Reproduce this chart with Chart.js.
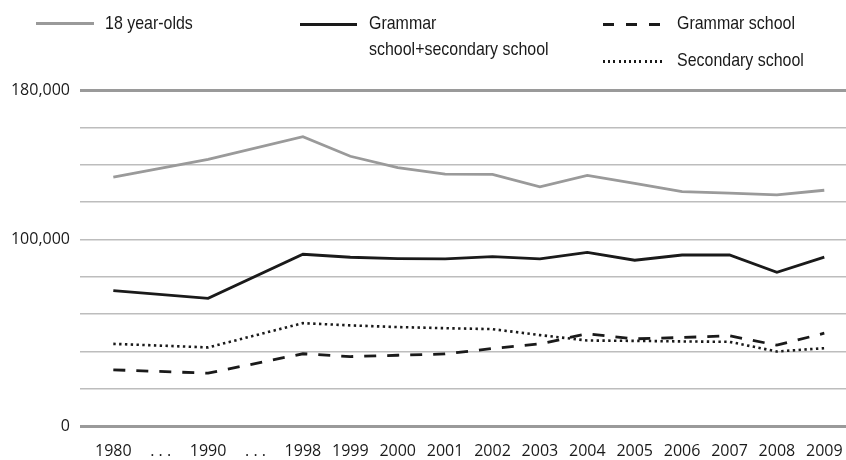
<!DOCTYPE html>
<html>
<head>
<meta charset="utf-8">
<script src="https://cdn.jsdelivr.net/npm/chart.js@4"></script>
<style>
  body { margin: 0; background: #fff; }
  #wrap { position: relative; width: 846px; height: 460px; }
  canvas { position: absolute; left: 0; top: 0; }
  .leg { position: absolute; font-family: "Liberation Sans", Arial, sans-serif; font-size: 19px; line-height: 26px; color: #1a1a1a; white-space: nowrap; transform: scaleX(0.84); transform-origin: left top; }
  .sw { position: absolute; }
</style>
</head>
<body>
<div id="wrap">
  <canvas id="grafico" width="846" height="460"></canvas>

  <div class="sw" style="left:36px; top:22px; width:58px; height:3px; background:#9a9a9a;"></div>
  <div class="leg" style="left:105px; top:10px;">18 year-olds</div>

  <div class="sw" style="left:300px; top:22.5px; width:57px; height:3px; background:#1a1a1a;"></div>
  <div class="leg" style="left:369px; top:10px;">Grammar<br>school+secondary school</div>

  <div class="sw" style="left:603px; top:22.5px; width:58px; height:3px; background:repeating-linear-gradient(to right, #1a1a1a 0 11px, transparent 11px 23px);"></div>
  <div class="leg" style="left:677px; top:10px;">Grammar school</div>

  <div class="sw" style="left:603px; top:60px; width:60px; height:2.5px; background:repeating-linear-gradient(to right, #1a1a1a 0 2px, transparent 2px 5.2px);"></div>
  <div class="leg" style="left:677px; top:46.5px;">Secondary school</div>
</div>

<script>
// ========== Dados ==========

const anos = ['1980', '. . .', '1990', '. . .', '1998', '1999', '2000', '2001', '2002', '2003', '2004', '2005', '2006', '2007', '2008', '2009'];

const jovens18 = [133300, null, 142800, null, 155000, 144500, 138400, 134900, 134800, 128100, 134200, 130000, 125600, 124800, 123800, 126300];
const gramSec = [72500, null, 68400, null, 92000, 90400, 89700, 89500, 90700, 89500, 93000, 88800, 91600, 91600, 82300, 90500];
const gramatica = [30100, null, 28300, null, 38700, 37200, 37900, 38600, 41500, 44000, 49400, 46700, 47400, 48300, 43300, 49700];
const secundaria = [44000, null, 42100, null, 55100, 53900, 53000, 52400, 51900, 48700, 45800, 45600, 45300, 45100, 39900, 41700];

const yTicksVisiveis = [0, 100000, 180000];

// pontos x/y para o eixo linear
function pontos(valores) {
  return valores.map((v, i) => ({ x: i, y: v }));
}

const ctx = document.getElementById('grafico');

new Chart(ctx, {
  type: 'line',
  data: {
    datasets: [
      {
        label: '18 year-olds',
        data: pontos(jovens18),
        borderColor: '#9a9a9a',
        borderWidth: 2.8,
      },
      {
        label: 'Grammar school+secondary school',
        data: pontos(gramSec),
        borderColor: '#1a1a1a',
        borderWidth: 2.8,
      },
      {
        label: 'Grammar school',
        data: pontos(gramatica),
        borderColor: '#1a1a1a',
        borderWidth: 2.8,
        borderDash: [12, 11],
      },
      {
        label: 'Secondary school',
        data: pontos(secundaria),
        borderColor: '#1a1a1a',
        borderWidth: 2.6,
        borderDash: [2.4, 3.4],
      },
    ],
  },
  options: {
    responsive: false,
    animation: false,
    spanGaps: true,
    elements: {
      point: { radius: 0 },
      line: { tension: 0, fill: false },
    },
    layout: { padding: { top: 90, right: 0, left: 0, bottom: 0 } },
    plugins: {
      legend: { display: false },
      tooltip: { enabled: false },
    },
    scales: {
      x: {
        type: 'linear',
        min: -0.703,
        max: 15.458,
        border: { display: false },
        grid: { display: false, drawTicks: true, tickLength: 16 },
        afterBuildTicks: axis => {
          axis.ticks = anos.map((_, i) => ({ value: i }));
        },
        afterFit: axis => { axis.height = 34; },
        ticks: {
          autoSkip: false,
          maxRotation: 0,
          padding: 0,
          color: '#1a1a1a',
          font: { family: 'Open Sans', size: 16 },
          callback: v => anos[v],
        },
      },
      y: {
        min: 0,
        max: 180000,
        border: { display: false },
        afterFit: axis => { axis.width = 80; },
        grid: {
          drawTicks: false,
          color: c => (c.tick.value === 0 || c.tick.value === 180000) ? '#9a9a9a' : '#bdbdbd',
          lineWidth: c => (c.tick.value === 0 || c.tick.value === 180000) ? 3 : 1.5,
        },
        ticks: {
          stepSize: 20000,
          padding: 10,
          color: '#1a1a1a',
          font: { family: 'Open Sans', size: 16 },
          callback: v => yTicksVisiveis.includes(v) ? v.toLocaleString('en-US') : '',
        },
      },
    },
  },
});
</script>
</body>
</html>
